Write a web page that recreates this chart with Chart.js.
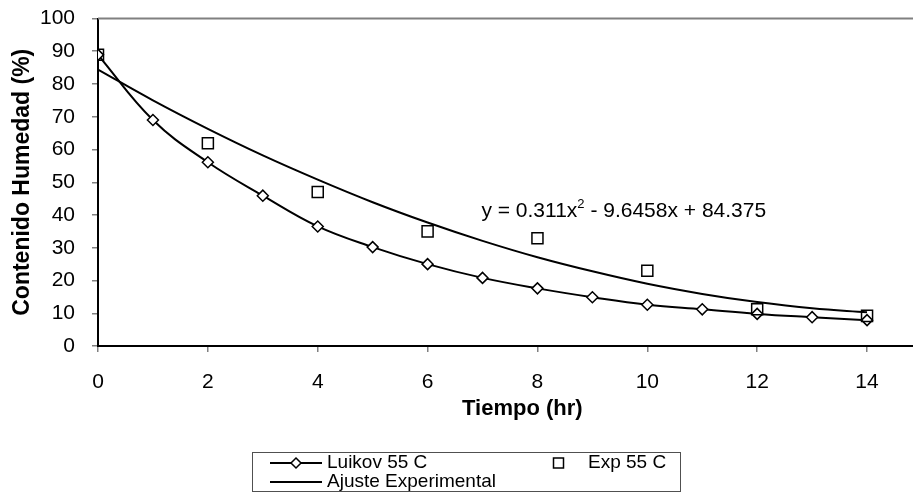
<!DOCTYPE html>
<html>
<head>
<meta charset="utf-8">
<script src="https://cdn.jsdelivr.net/npm/chart.js@4.4.1/dist/chart.umd.min.js"></script>
<style>
  html, body { margin: 0; padding: 0; background: #fff; overflow: hidden; width: 913px; height: 496px; }
  canvas { display: block; }
</style>
</head>
<body>
<canvas id="c" width="956" height="496"></canvas>
<script>
// ---- data ----
const luikovX = [0, 1, 2, 3, 4, 5, 6, 7, 8, 9, 10, 11, 12, 13, 14];
const luikovY = [88.9, 69.0, 56.1, 45.9, 36.5, 30.2, 25.0, 20.8, 17.6, 14.9, 12.6, 11.2, 9.8, 8.8, 7.9];
const expX = [0, 2, 4, 6, 8, 10, 12, 14];
const expY = [88.9, 61.9, 47.0, 35.0, 32.9, 23.0, 11.2, 9.2];
const fitX = [0, 1, 2, 3, 4, 5, 6, 7, 8, 9, 10, 11, 12, 13, 14];
const fitY = [84.4, 75.0, 66.3, 58.2, 50.8, 43.9, 37.7, 32.1, 27.1, 22.8, 19.0, 15.9, 13.4, 11.5, 10.3];
const seriesLabels = ['Luikov 55 C', 'Exp 55 C', 'Ajuste Experimental'];
const xTitle = 'Tiempo (hr)';
const yTitle = 'Contenido Humedad (%)';
const eqMain = 'y = 0.311x';
const eqSup = '2';
const eqRest = ' - 9.6458x + 84.375';
const eqPos = { x: 6.98, y: 41.2 };

const FAMILY = '"Liberation Sans", Arial, Helvetica, sans-serif';
Chart.defaults.font.family = FAMILY;
Chart.defaults.color = '#000';

const pts = (xs, ys) => xs.map((x, i) => ({ x: x, y: ys[i] }));

const extras = {
  id: 'extras',
  afterDraw(chart) {
    const ctx = chart.ctx;
    const a = chart.chartArea;
    const xs = chart.scales.x, ys = chart.scales.y;
    ctx.save();
    // top border of plot area
    ctx.strokeStyle = '#808080';
    ctx.lineWidth = 2;
    ctx.beginPath();
    ctx.moveTo(a.left, a.top);
    ctx.lineTo(a.right, a.top);
    ctx.stroke();

    // trendline equation
    ctx.fillStyle = '#000';
    ctx.textBaseline = 'middle';
    ctx.textAlign = 'left';
    let px = xs.getPixelForValue(eqPos.x);
    const py = ys.getPixelForValue(eqPos.y);
    ctx.font = '21px ' + FAMILY;
    ctx.fillText(eqMain, px, py);
    px += ctx.measureText(eqMain).width;
    ctx.font = '13px ' + FAMILY;
    ctx.fillText(eqSup, px, py - 7);
    px += ctx.measureText(eqSup).width;
    ctx.font = '21px ' + FAMILY;
    ctx.fillText(eqRest, px, py);

    // legend
    const ds = chart.data.datasets;
    ctx.strokeStyle = '#505050';
    ctx.lineWidth = 1;
    ctx.strokeRect(252.5, 452.5, 428, 39);
    ctx.font = '19px ' + FAMILY;
    ctx.textBaseline = 'middle';
    // Luikov
    ctx.strokeStyle = ds[0].borderColor;
    ctx.lineWidth = 2;
    ctx.beginPath(); ctx.moveTo(270, 463); ctx.lineTo(322, 463); ctx.stroke();
    ctx.fillStyle = '#fff';
    ctx.beginPath();
    ctx.moveTo(296, 458); ctx.lineTo(301, 463); ctx.lineTo(296, 468); ctx.lineTo(291, 463); ctx.closePath();
    ctx.fill(); ctx.lineWidth = 1.5; ctx.strokeStyle = '#000'; ctx.stroke();
    ctx.fillStyle = '#000';
    ctx.fillText(ds[0].label, 327, 463);
    // Exp
    ctx.fillStyle = '#fff';
    ctx.strokeStyle = '#000';
    ctx.lineWidth = 1.5;
    ctx.fillRect(553.5, 458, 10, 10);
    ctx.strokeRect(553.5, 458, 10, 10);
    ctx.fillStyle = '#000';
    ctx.fillText(ds[1].label, 588, 463);
    // Ajuste
    ctx.strokeStyle = ds[2].borderColor;
    ctx.lineWidth = 2;
    ctx.beginPath(); ctx.moveTo(270, 482); ctx.lineTo(322, 482); ctx.stroke();
    ctx.fillText(ds[2].label, 327, 482);
    ctx.restore();
  }
};

const gridCfg = { drawOnChartArea: false, drawTicks: true, tickLength: 6, color: '#808080', lineWidth: 1.5 };

new Chart(document.getElementById('c'), {
  type: 'scatter',
  data: {
    datasets: [
      {
        label: seriesLabels[0],
        data: pts(luikovX, luikovY),
        showLine: true,
        borderColor: '#000',
        borderWidth: 2,
        tension: 0.4,
        pointStyle: 'rectRot',
        pointRadius: 5.5,
        pointBorderWidth: 1.5,
        pointBackgroundColor: '#fff',
        pointBorderColor: '#000',
        order: 2
      },
      {
        label: seriesLabels[1],
        data: pts(expX, expY),
        showLine: false,
        pointStyle: 'rect',
        pointRadius: 7.8,
        pointBorderWidth: 1.5,
        pointBackgroundColor: 'rgba(255,255,255,0)',
        pointBorderColor: '#000',
        borderColor: '#000',
        order: 1
      },
      {
        label: seriesLabels[2],
        data: pts(fitX, fitY),
        showLine: true,
        borderColor: '#000',
        borderWidth: 2,
        tension: 0.4,
        pointRadius: 0,
        order: 3
      }
    ]
  },
  options: {
    responsive: false,
    animation: false,
    devicePixelRatio: 1,
    layout: { padding: { left: 0, right: 0, top: 18.5, bottom: 70 } },
    plugins: { legend: { display: false }, tooltip: { enabled: false } },
    scales: {
      x: {
        type: 'linear',
        min: 0,
        max: 15.45,
        ticks: { stepSize: 2, includeBounds: false, padding: 17.5, maxRotation: 0, font: { size: 21 }, color: '#000' },
        grid: gridCfg,
        border: { color: '#000', width: 2 },
        title: { display: true, text: xTitle, color: '#000', font: { size: 22, weight: 'bold' }, padding: { top: 4, bottom: 4 } },
        afterFit(s) { s.height = 80; s.paddingLeft = 0; s.paddingRight = 0; }
      },
      y: {
        min: 0,
        max: 100,
        ticks: { stepSize: 10, padding: 17, font: { size: 21 }, color: '#000' },
        grid: gridCfg,
        border: { color: '#000', width: 2 },
        title: { display: true, text: yTitle, color: '#000', font: { size: 23, weight: 'bold' }, padding: { top: 9, bottom: 0 } },
        afterFit(s) { s.width = 98; s.paddingTop = 0; s.paddingBottom = 0; }
      }
    }
  },
  plugins: [extras]
});
</script>
</body>
</html>
